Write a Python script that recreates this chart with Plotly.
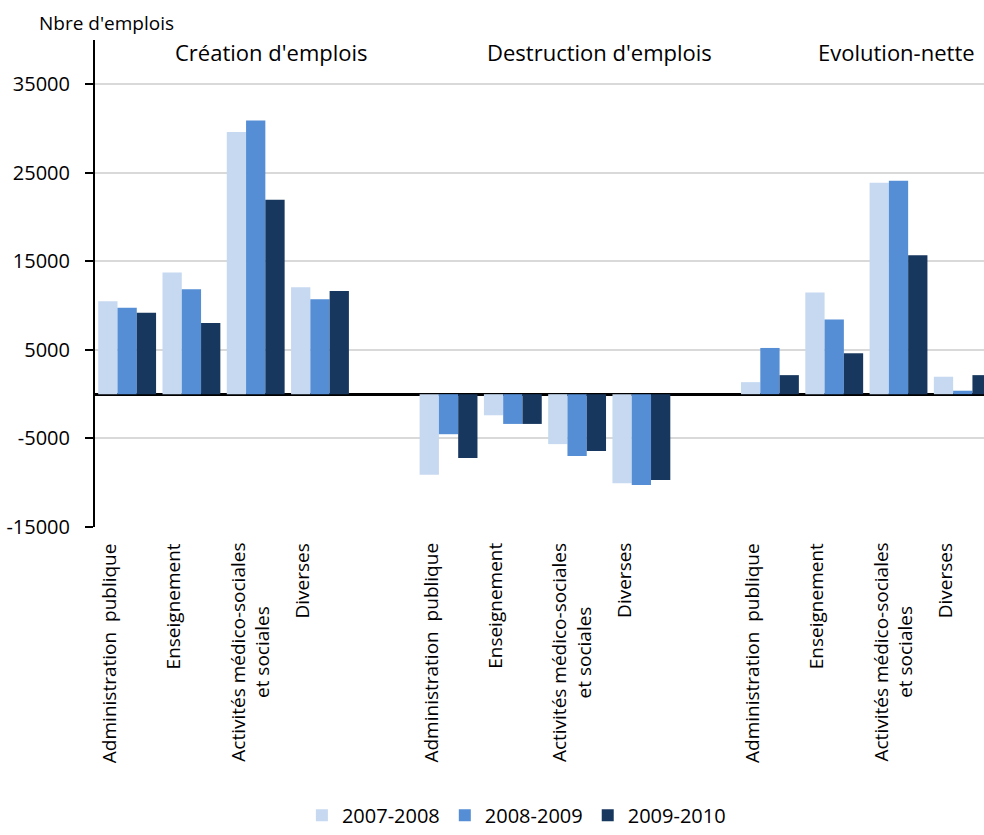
import plotly.graph_objects as go

categories = ["Administration  publique", "Enseignement",
              "Activités médico-sociales<br>et sociales", "Diverses"]
sections = ["Création d'emplois", "Destruction d'emplois", "Evolution-nette"]
series_names = ["2007-2008", "2008-2009", "2009-2010"]

creation_0708 = [10500, 13750, 29600, 12080]
creation_0809 = [9750, 11850, 30900, 10730]
creation_0910 = [9190, 8030, 21960, 11660]

destruction_0708 = [-9090, -2380, -5640, -10060]
destruction_0809 = [-4520, -3360, -6990, -10250]
destruction_0910 = [-7210, -3360, -6430, -9690]

nette_0708 = [1360, 11470, 23880, 1970]
nette_0809 = [5220, 8440, 24100, 390]
nette_0910 = [2150, 4620, 15680, 2150]

y_ticks = [-15000, -5000, 5000, 15000, 25000, 35000]
y_tick_labels = ["-15000", "-5000", "5000", "15000", "25000", "35000"]

colors = ["#C6D9F1", "#558ED5", "#17375E"]
FONT = "Open Sans"

series_data = [
    creation_0708 + destruction_0708 + nette_0708,
    creation_0809 + destruction_0809 + nette_0809,
    creation_0910 + destruction_0910 + nette_0910,
]

# category slots: 4 categories per section, one empty slot between sections
x_pos = [s * 5 + i for s in range(len(sections)) for i in range(len(categories))]

fig = go.Figure()
for name, vals, col in zip(series_names, series_data, colors):
    fig.add_trace(go.Bar(
        x=x_pos, y=vals, name=name,
        marker=dict(color=col, line=dict(width=0)),
    ))

annotations = []
for s in range(len(sections)):
    for i, lab in enumerate(categories):
        annotations.append(dict(
            x=s * 5 + i, y=0, xref="x", yref="paper",
            text=lab, textangle=-90, showarrow=False,
            xanchor="left", yanchor="top", align="center",
            xshift=-33, yshift=-14,
            font=dict(family=FONT, size=19, color="#000000"),
        ))

section_x = [0.198, 0.568, 0.902]
for sx, txt in zip(section_x, sections):
    annotations.append(dict(
        x=sx, y=0.9755, xref="paper", yref="paper", text=txt,
        showarrow=False, xanchor="center", yanchor="middle",
        font=dict(family=FONT, size=22, color="#000000"),
    ))

annotations.append(dict(
    x=-0.0652, y=1.0347, xref="paper", yref="paper", text="Nbre d'emplois",
    showarrow=False, xanchor="left", yanchor="middle",
    font=dict(family=FONT, size=19, color="#000000"),
))

fig.update_layout(
    width=984, height=835,
    margin=dict(l=95, r=0, t=40, b=305),
    paper_bgcolor="white", plot_bgcolor="white",
    barmode="group", bargap=0.1, bargroupgap=0,
    font=dict(family=FONT, size=19, color="#000000"),
    showlegend=True,
    legend=dict(orientation="h", x=0.474, xanchor="center", y=-0.592, yanchor="middle",
                font=dict(family=FONT, size=20, color="#000000"),
                itemwidth=30, tracegroupgap=0),
    annotations=annotations,
)

fig.update_xaxes(
    range=[-0.5, 13.33], showticklabels=False, ticks="",
    showgrid=False, zeroline=False, showline=False,
)
fig.update_yaxes(
    range=[-15000, 40000], tickvals=y_ticks, ticktext=y_tick_labels,
    ticks="outside", ticklen=8, tickwidth=2, tickcolor="#000000",
    showline=True, linecolor="#000000", linewidth=2,
    showgrid=True, gridcolor="#D9D9D9", gridwidth=2,
    zeroline=True, zerolinecolor="#000000", zerolinewidth=3,
    tickfont=dict(family=FONT, size=20, color="#000000"),
    ticklabelstandoff=11,
)

fig.write_html("out.html", config={"displayModeBar": False},
               post_script="document.body.style.margin='0';")
